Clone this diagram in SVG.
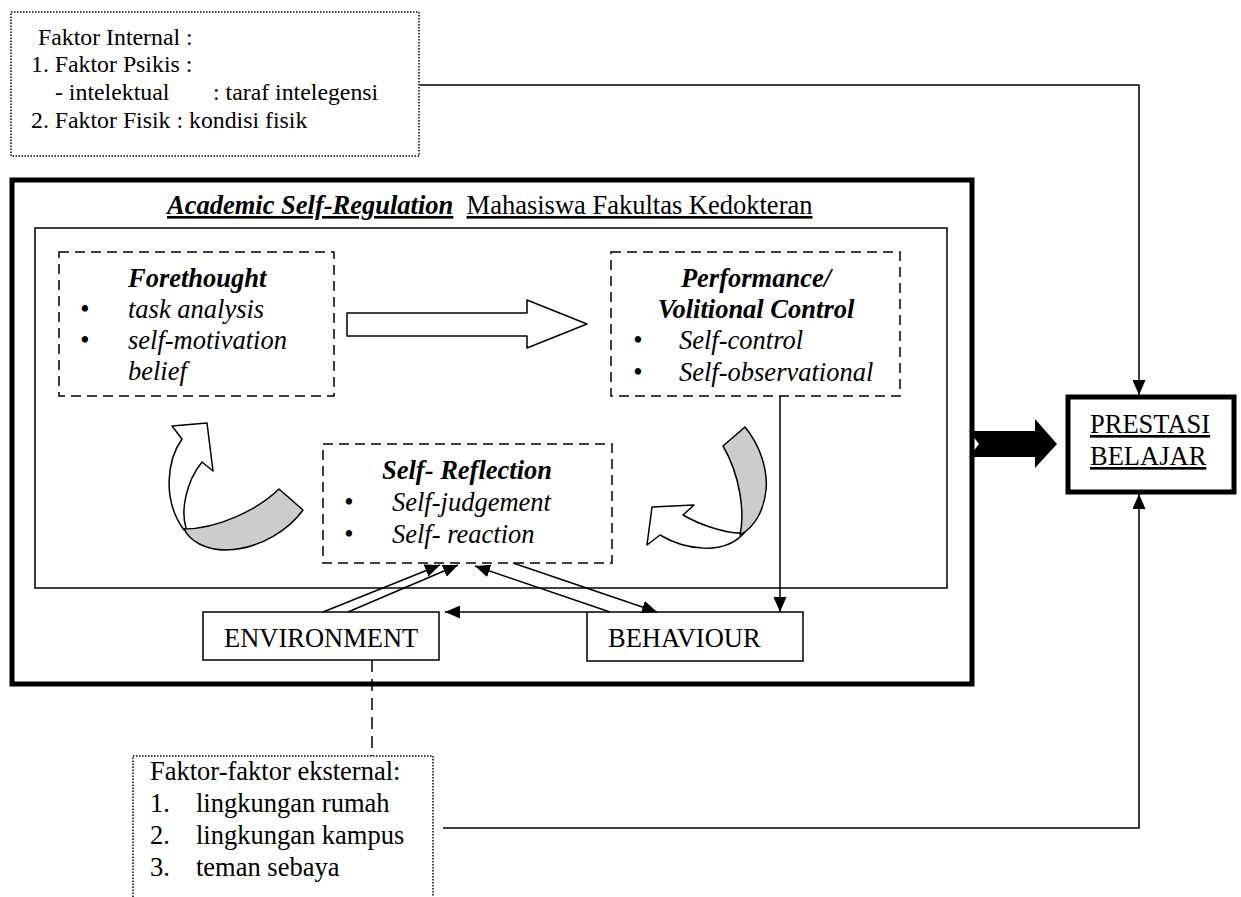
<svg xmlns="http://www.w3.org/2000/svg" width="1241" height="897" viewBox="0 0 1241 897">
<defs>
<style>
.t{font-family:"Liberation Serif","Times New Roman",serif;font-size:26.5px;fill:#000}
.s{font-size:23.8px}
.bi{font-weight:bold;font-style:italic}
.i{font-style:italic}
.u{text-decoration:underline}
.dot{fill:none;stroke:#000;stroke-width:1.5;stroke-dasharray:1.5 1.5}
.dash{fill:none;stroke:#000;stroke-width:1.5;stroke-dasharray:10 6}
.thin{fill:none;stroke:#000;stroke-width:1.5}
.box{fill:#fff;stroke:#000;stroke-width:1.5}
.ln{fill:none;stroke:#000;stroke-width:1.5}
.rib{stroke:#000;stroke-width:1.5;stroke-linejoin:round}
.w{fill:#fff}
.g{fill:#cccccc}
</style>
<marker id="ah" markerUnits="userSpaceOnUse" markerWidth="15" markerHeight="13" refX="15" refY="6.5" orient="auto">
<path d="M0,0 L15,6.5 L0,13 Z" fill="#000"/>
</marker>
</defs>

<g id="internal">
<rect class="dot" x="11" y="12" width="408" height="144"/>
<text class="t s" x="38" y="45">Faktor Internal :</text>
<text class="t s" x="31" y="72">1. Faktor Psikis :</text>
<text class="t s" x="55" y="100">- intelektual</text>
<text class="t s" x="213" y="100">: taraf intelegensi</text>
<text class="t s" x="31" y="128">2. Faktor Fisik : kondisi fisik</text>
</g>

<g id="asr">
<rect x="12" y="180" width="960" height="504" fill="none" stroke="#000" stroke-width="5"/>
<text class="t" x="167" y="214"><tspan class="bi u">Academic Self-Regulation</tspan><tspan xml:space="preserve">  </tspan><tspan class="u">Mahasiswa Fakultas Kedokteran</tspan></text>
<rect class="thin" x="35" y="228" width="912" height="360"/>
</g>

<g id="forethought">
<rect class="dash" x="59" y="252" width="275" height="144"/>
<text class="t bi" x="128" y="287">Forethought</text>
<text class="t" x="85" y="318" text-anchor="middle">•</text>
<text class="t i" x="128" y="318">task analysis</text>
<text class="t" x="85" y="349" text-anchor="middle">•</text>
<text class="t i" x="128" y="349">self-motivation</text>
<text class="t i" x="128" y="380">belief</text>
</g>

<g id="flow-arrow">
<path class="rib w" d="M347,313 H527 V300 L587,324 L527,348 V336 H347 Z"/>
</g>

<g id="performance">
<rect class="dash" x="611" y="252" width="289" height="144"/>
<text class="t bi" x="756" y="287" text-anchor="middle">Performance/</text>
<text class="t bi" x="756" y="318" text-anchor="middle">Volitional Control</text>
<text class="t" x="638" y="349" text-anchor="middle">•</text>
<text class="t i" x="679" y="349">Self-control</text>
<text class="t" x="638" y="381" text-anchor="middle">•</text>
<text class="t i" x="679" y="381">Self-observational</text>
</g>

<g id="reflection">
<rect class="dash" x="323" y="444" width="289" height="119"/>
<text class="t bi" x="382" y="479">Self- Reflection</text>
<text class="t" x="349" y="511" text-anchor="middle">•</text>
<text class="t i" x="392" y="511">Self-judgement</text>
<text class="t" x="349" y="543" text-anchor="middle">•</text>
<text class="t i" x="392" y="543">Self- reaction</text>
</g>

<g id="cycle-right">
<path class="rib w" d="M740,533 C725,533 700,525 683,515 L694,505 L652,507 L647,545 L660,535 C685,550 725,556 745,532 Z"/>
<path class="rib g" d="M723,446 L745,427 C760,445 768,470 766,490 C764,510 755,527 740,535 C745,512 740,475 723,446 Z"/>
</g>

<g id="cycle-left">
<path class="rib w" d="M186,528 C181,512 185,483 202,462 L213,471 L207,423 L172,426 L182,439 C167,460 162,500 184,530 Z"/>
<path class="rib g" d="M279,489 L303,510 C290,528 262,549 226,550 C205,550 190,541 184,529 C215,529 255,512 279,489 Z"/>
</g>

<g id="environment">
<rect class="box" x="203" y="612" width="236" height="48"/>
<text class="t" x="224" y="647">ENVIRONMENT</text>
</g>

<g id="behaviour">
<rect class="box" x="587" y="612" width="216" height="49"/>
<text class="t" x="608" y="647">BEHAVIOUR</text>
</g>

<g id="prestasi">
<rect x="1068" y="397" width="166" height="95" fill="#fff" stroke="#000" stroke-width="5"/>
<text class="t u" x="1090" y="433">PRESTASI</text>
<text class="t u" x="1090" y="465">BELAJAR</text>
</g>

<g id="external">
<path class="dot" d="M133,897 V756 H433 V897"/>
<text class="t" x="150" y="780">Faktor-faktor eksternal:</text>
<text class="t" x="150" y="812">1.</text>
<text class="t" x="196" y="812">lingkungan rumah</text>
<text class="t" x="150" y="844">2.</text>
<text class="t" x="196" y="844">lingkungan kampus</text>
<text class="t" x="150" y="876">3.</text>
<text class="t" x="196" y="876">teman sebaya</text>
</g>

<g id="connectors">
<path class="ln" d="M420,85 H1139 V395" marker-end="url(#ah)"/>
<path class="ln" d="M443,828 H1139 V494" marker-end="url(#ah)"/>
<path d="M969,431 H1035 V419 L1057,444 L1035,468 V457 H969 L979,444 Z" fill="#000"/>
<path class="ln" d="M780,396 V612" marker-end="url(#ah)"/>
<path class="ln" d="M587,612 H445" marker-end="url(#ah)"/>
<path class="ln" d="M323,612 L440,565" marker-end="url(#ah)"/>
<path class="ln" d="M348,612 L458,565" marker-end="url(#ah)"/>
<path class="ln" d="M610,612 L475,566" marker-end="url(#ah)"/>
<path class="ln" d="M513,563 L657,612" marker-end="url(#ah)"/>
<path class="ln" d="M372,660 V756" stroke-dasharray="12 7"/>
</g>
</svg>
